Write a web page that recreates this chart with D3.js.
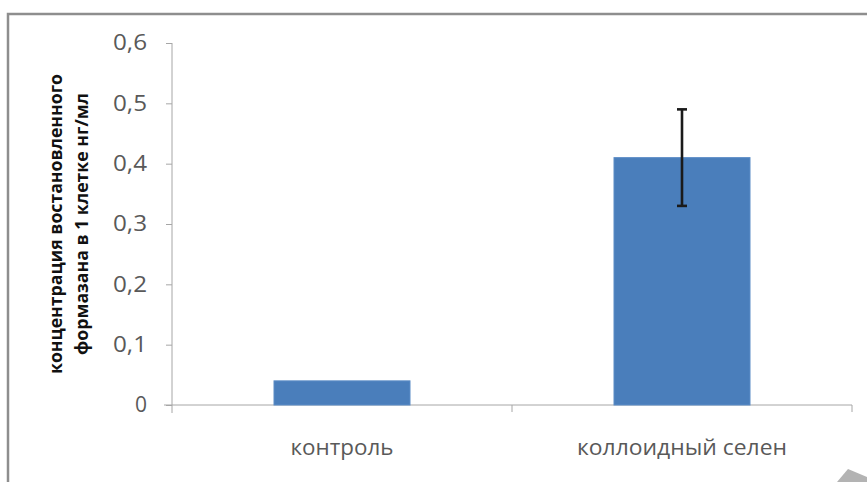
<!DOCTYPE html>
<html><head><meta charset="utf-8">
<script src="https://cdn.jsdelivr.net/npm/d3@7"></script>
<style>html,body{margin:0;padding:0;background:#fff;}svg{display:block;}</style>
</head><body>
<svg id="c" width="867" height="482"></svg>
<script>
const categories = ["контроль", "коллоидный селен"];
const values = [0.04, 0.41];
const errors = [0, 0.08];
const yTicks = [0, 0.1, 0.2, 0.3, 0.4, 0.5, 0.6];
const yTitle = ["концентрация востановленного", "формазана в 1 клетке нг/мл"];

const svg = d3.select("#c");
const font = "'Open Sans', 'DejaVu Sans', sans-serif";

// frame (cropped chart area border)
svg.append("path").attr("d", "M8,482 V14 H867").attr("fill", "none")
  .attr("stroke", "#8e8e8e").attr("stroke-width", 2.5);

const x0 = 172, x1 = 852, yb = 405, yt = 43;
const x = d3.scaleBand().domain(categories).range([x0, x1]).paddingInner(0.6).paddingOuter(0.3);
const y = d3.scaleLinear().domain([0, 0.6]).range([yb, yt]);

// y axis
const yAxis = d3.axisLeft(y).tickValues(yTicks).tickSize(6).tickPadding(19)
  .tickFormat(d => d3.format(".1f")(d).replace(".", ",").replace(/^0,0$/, "0"));
const gy = svg.append("g").attr("transform", `translate(${x0},0)`).call(yAxis);
gy.select(".domain").attr("stroke", "#a6a6a6").attr("d", `M-0,${yt}V${yb + 8}`);
gy.selectAll(".tick line").attr("stroke", "#a6a6a6");
gy.selectAll(".tick text").attr("fill", "#595959").attr("font-family", font).attr("font-size", 21)
  .style("font-family", font).style("font-size", "21px")
  .each(function (d) { if (d !== 0) d3.select(this).attr("textLength", 34).attr("lengthAdjust", "spacingAndGlyphs"); });

// x axis
const gx = svg.append("g").attr("transform", `translate(0,${yb})`);
gx.append("line").attr("x1", x0 - 8).attr("x2", x1).attr("y1", 0).attr("y2", 0).attr("stroke", "#a6a6a6");
const bounds = [x0, (x0 + x1) / 2, x1];
gx.selectAll(".bt").data(bounds.slice(1)).enter().append("line")
  .attr("x1", d => d).attr("x2", d => d).attr("y1", 0).attr("y2", 7).attr("stroke", "#a6a6a6");
const lblLen = [103, 210];
gx.selectAll(".lbl").data(categories).enter().append("text")
  .attr("x", d => x(d) + x.bandwidth() / 2).attr("y", 50)
  .attr("text-anchor", "middle").attr("fill", "#595959")
  .attr("textLength", (d, i) => lblLen[i]).attr("lengthAdjust", "spacingAndGlyphs")
  .style("font-family", font).style("font-size", "21px").text(d => d);

// bars
svg.selectAll(".bar").data(categories).enter().append("rect")
  .attr("x", d => x(d)).attr("width", x.bandwidth())
  .attr("y", (d, i) => y(values[i])).attr("height", (d, i) => yb - y(values[i]))
  .attr("fill", "#4a7ebb").attr("stroke", "#5b8cc6").attr("stroke-width", 1);

// error bars
categories.forEach((c, i) => {
  if (!errors[i]) return;
  const cx = x(c) + x.bandwidth() / 2;
  const g = svg.append("g").attr("stroke", "#1a1a1a").attr("stroke-width", 2.6);
  g.append("line").attr("x1", cx).attr("x2", cx).attr("y1", y(values[i] + errors[i])).attr("y2", y(values[i] - errors[i]));
  g.append("line").attr("x1", cx - 5).attr("x2", cx + 5).attr("y1", y(values[i] + errors[i])).attr("y2", y(values[i] + errors[i]));
  g.append("line").attr("x1", cx - 5).attr("x2", cx + 5).attr("y1", y(values[i] - errors[i])).attr("y2", y(values[i] - errors[i]));
});

// y title
const titleLen = [300, 262];
const t = svg.append("text").attr("transform", "translate(62,224) rotate(-90)")
  .attr("text-anchor", "middle").attr("fill", "#111")
  .style("font-family", font).style("font-size", "17px").style("font-weight", "bold");
yTitle.forEach((s, i) => t.append("tspan").attr("x", 0).attr("y", i * 26)
  .attr("textLength", titleLen[i]).attr("lengthAdjust", "spacingAndGlyphs").text(s));

// corner artifact
svg.append("polygon").attr("points", "837,482 848,469 867,477 867,482").attr("fill", "#b3b3b3");
</script>
</body></html>
